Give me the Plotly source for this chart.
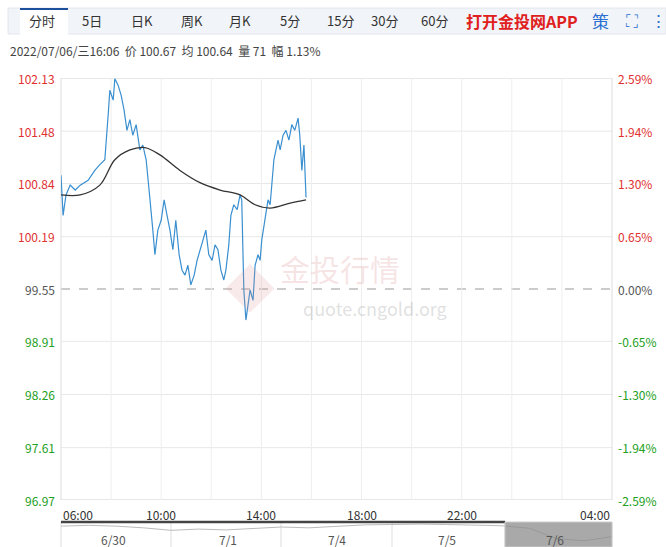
import plotly.graph_objects as go

# minutes after 06:00
t_price = [0,5,12,22,34,46,65,81,93,105,113,117,125,129,137,144,151,158,165,172,180,189,196,204,211,216,220,225,232,240,247,254,261,268,275,283,290,297,304,311,319,326,333,340,347,354,362,369,376,383,390,395,402,407,414,422,429,433,438,443,448,453,460,465,472,477,481,486,491,496,501,505,510,515,520,525,532,539,546,553,560,568,572,577,582,587]
price = [100.94,100.45,100.70,100.82,100.76,100.82,100.88,101.00,101.07,101.13,101.68,101.98,101.86,102.12,102.04,101.92,101.74,101.49,101.62,101.43,101.56,101.25,101.31,101.13,100.76,100.52,100.27,99.97,100.27,100.39,100.64,100.45,100.27,100.03,100.39,99.97,99.78,99.72,99.84,99.60,99.72,99.90,100.03,100.15,100.27,99.97,99.90,100.09,100.03,99.78,99.66,99.78,100.09,100.45,100.58,100.52,100.70,100.64,99.54,99.17,99.35,99.54,99.41,99.84,99.97,99.90,100.15,100.33,100.52,100.64,100.58,100.88,101.13,101.25,101.37,101.25,101.43,101.49,101.37,101.56,101.49,101.64,101.43,101.00,101.31,100.67]
t_avg = [0,46,93,129,165,201,237,285,333,381,429,465,501,549,587]
avg = [100.70,100.70,100.82,101.13,101.25,101.28,101.19,101.00,100.85,100.76,100.70,100.58,100.54,100.60,100.64]
price_ticks = [102.13,101.48,100.84,100.19,99.55,98.91,98.26,97.61,96.97]
pct_ticks = ["2.59%","1.94%","1.30%","0.65%","0.00%","-0.65%","-1.30%","-1.94%","-2.59%"]
time_tickvals = [0,240,480,720,960,1320]
time_ticktext = ["06:00","10:00","14:00","18:00","22:00","04:00"]
nav_x = [0,20,40,60,80,100,120,140,160,180,200,220,240,260,280,300,320,340,360,380,400]
nav_y = [5,5.2,5,4.6,4,4.3,4.1,4.5,4.8,4.6,4.9,5.3,5.4,5.5,5.4,5.3,5.1,4.5,2,1.5,2.5]
nav_labels = ["6/30","7/1","7/4","7/5","7/6"]
tabs = ["分时","5日","日K","周K","月K","5分","15分","30分","60分"]
tab_x = [42,92,142,192,240,290,340,384,434]

fig = go.Figure()
fig.add_trace(go.Scatter(x=t_price, y=price, mode="lines", line=dict(color="#3a8fd0", width=1.2), hoverinfo="skip"))
fig.add_trace(go.Scatter(x=t_avg, y=avg, mode="lines", line=dict(color="#333", width=1.3, shape="spline"), hoverinfo="skip"))
fig.add_trace(go.Scatter(x=nav_x, y=nav_y, mode="lines", line=dict(color="#bbb", width=1), xaxis="x2", yaxis="y2", hoverinfo="skip"))

def px(x): return (x - 61) / 551
def py(y): return (547 - y) / 469

ann = []
shapes = []
for v, p in zip(price_ticks, pct_ticks):
    c = "#e03030" if v > 99.56 else ("#555" if abs(v-99.55) < 0.01 else "#22a022")
    ann.append(dict(x=0, xref="paper", y=v, yref="y", text=f"{v:.2f}", showarrow=False, xanchor="right", yanchor="middle", xshift=-4, font=dict(size=12, color=c)))
    ann.append(dict(x=1, xref="paper", y=v, yref="y", text=p, showarrow=False, xanchor="left", yanchor="middle", xshift=4, font=dict(size=12, color=c)))
    if abs(v-99.55) > 0.01:
        shapes.append(dict(type="line", xref="paper", x0=0, x1=1, yref="y", y0=v, y1=v, line=dict(color="#e8e8e8", width=1), layer="below"))
shapes.append(dict(type="line", xref="paper", x0=0, x1=1, yref="y", y0=99.55, y1=99.55, line=dict(color="#999", width=1, dash="dash"), layer="below"))
for xv in range(120, 1320, 120):
    shapes.append(dict(type="line", xref="x", x0=xv, x1=xv, yref="y", y0=96.97, y1=102.13, line=dict(color="#eee", width=1), layer="below"))
shapes.append(dict(type="rect", xref="paper", x0=0, x1=1, yref="y", y0=96.97, y1=102.13, line=dict(color="#ddd", width=1), layer="below"))
# toolbar
shapes.append(dict(type="rect", xref="paper", yref="paper", x0=px(8), x1=px(666), y0=py(34), y1=py(8), fillcolor="#f1f4f8", line=dict(color="#e2e6ec", width=1), layer="below"))
shapes.append(dict(type="rect", xref="paper", yref="paper", x0=px(20), x1=px(68), y0=py(35), y1=py(9), fillcolor="white", line=dict(width=0), layer="below"))
shapes.append(dict(type="line", xref="paper", yref="paper", x0=px(20), x1=px(68), y0=py(9), y1=py(9), line=dict(color="#1c4f9c", width=2)))
# navigator
shapes.append(dict(type="line", xref="paper", yref="paper", x0=px(61), x1=px(505), y0=py(522), y1=py(522), line=dict(color="#444", width=2.5)))
shapes.append(dict(type="rect", xref="paper", yref="paper", x0=px(505), x1=px(612), y0=py(547), y1=py(522), fillcolor="rgba(140,140,140,0.75)", line=dict(color="#ccc", width=1)))
for xx in [61,171,281,392,505,612]:
    shapes.append(dict(type="line", xref="paper", yref="paper", x0=px(xx), x1=px(xx), y0=0, y1=py(522), line=dict(color="#ddd", width=1), layer="below"))

def A(x, y, text, size, color, xanchor="center"):
    ann.append(dict(x=px(x), y=py(y), xref="paper", yref="paper", text=text, showarrow=False, xanchor=xanchor, yanchor="middle", font=dict(size=size, color=color)))

for t, x in zip(tabs, tab_x):
    A(x, 21, t, 13, "#333")
A(522, 21, "<b>打开金投网APP</b>", 16, "#e02020")
A(600, 21, "策", 17, "#2a6fd0")
A(632, 20, "⛶", 17, "#2a6fd0")
A(658, 20, "⋮", 17, "#2a6fd0")
A(8, 50, "2022/07/06/三16:06  价 100.67  均 100.64  量 71  幅 1.13%", 12, "#444", "left")
for i, (tv, tt) in enumerate(zip(time_tickvals, time_ticktext)):
    xa = "left" if i == 0 else ("right" if i == len(time_tickvals) - 1 else "center")
    ann.append(dict(x=tv, xref="x", y=py(514), yref="paper", text=tt, showarrow=False, xanchor=xa, yanchor="middle", font=dict(size=12, color="#333")))
for lab, x in zip(nav_labels, [113, 228, 337, 447, 555]):
    A(x, 539, lab, 12, "#555")
A(340, 268, "金投行情", 30, "rgba(220,150,150,0.25)")
A(375, 308, "quote.cngold.org", 18, "rgba(150,150,150,0.3)")
A(250, 285, "◆", 50, "rgba(220,150,150,0.2)")

fig.update_layout(
    width=666, height=547, margin=dict(l=61, r=54, t=78, b=0),
    paper_bgcolor="white", plot_bgcolor="white", showlegend=False,
    font=dict(family="Noto Sans CJK SC, Liberation Sans"),
    xaxis=dict(range=[0, 1320], showticklabels=False, showgrid=False, zeroline=False, anchor="y", fixedrange=True),
    yaxis=dict(range=[96.97, 102.13], domain=[py(500), 1], showticklabels=False, showgrid=False, zeroline=False),
    xaxis2=dict(range=[0, 400], domain=[0, 1], anchor="y2", visible=False),
    yaxis2=dict(range=[0, 6], domain=[0, py(522)], visible=False),
    annotations=ann, shapes=shapes,
)
fig.write_html("out.html", config={"displayModeBar": False},
               post_script="document.body.style.margin='0';document.body.style.overflow='hidden';")
